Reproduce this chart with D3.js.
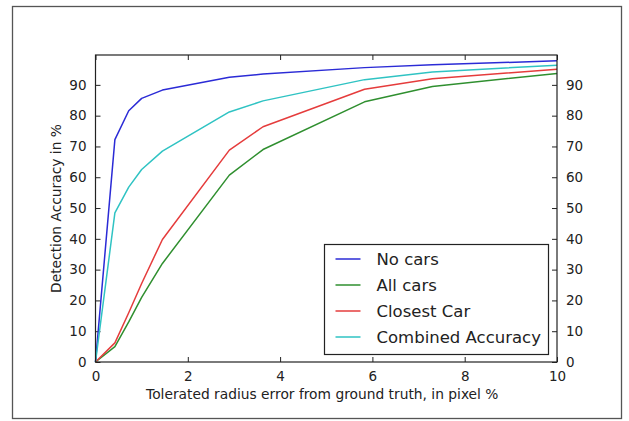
<!DOCTYPE html>
<html>
<head>
<meta charset="utf-8">
<script src="https://cdn.jsdelivr.net/npm/d3@7"></script>
<style>
  body { margin: 0; background: #fff; }
  svg text { font-family: "DejaVu Sans", sans-serif; fill: #222; }
</style>
</head>
<body>
<div id="chart"></div>
<script>
// Tolerated radius error (pixel %) and detection accuracy (%) per method
const radius = [0, 0.42, 0.72, 1.0, 1.45, 2.9, 3.63, 5.83, 7.3, 10];
const noCars = [0, 72.2, 81.6, 85.6, 88.3, 92.5, 93.5, 95.6, 96.5, 97.8];
const allCars = [0, 5, 13, 21, 32, 60.7, 69, 84.5, 89.5, 93.7];
const closestCar = [0, 6.2, 16, 25.5, 39.8, 68.8, 76.4, 88.6, 92, 95.1];
const combined = [0, 48.4, 56.8, 62.5, 68.5, 81.2, 84.8, 91.7, 94.2, 96.4];

const seriesNames = ['No cars', 'All cars', 'Closest Car', 'Combined Accuracy'];
const seriesValues = [noCars, allCars, closestCar, combined];
const seriesColors = ['#2b2bd6', '#2f8f2f', '#e53c3c', '#2fc3c3'];

const xTicks = [0, 2, 4, 6, 8, 10];
const yTicks = [0, 10, 20, 30, 40, 50, 60, 70, 80, 90];

const width = 629, height = 421;
const margin = { top: 55, right: 72, bottom: 59, left: 95.5 };
const plotW = width - margin.left - margin.right;
const plotH = height - margin.top - margin.bottom;

const svg = d3.select('#chart').append('svg')
  .attr('width', width)
  .attr('height', height);

// outer figure frame
svg.append('rect')
  .attr('x', 12.5).attr('y', 6.5)
  .attr('width', 609).attr('height', 412)
  .attr('fill', 'none')
  .attr('stroke', '#555')
  .attr('stroke-width', 1.3);

const g = svg.append('g')
  .attr('transform', `translate(${margin.left},${margin.top})`);

const x = d3.scaleLinear().domain([0, 10]).range([0, plotW]);
const y = d3.scaleLinear().domain([0, 99.7]).range([plotH, 0]);

// axes, ticks pointing inward
const tickLen = 5;
const styleAxis = sel => {
  sel.select('.domain').remove();
  sel.selectAll('.tick line').attr('stroke', '#222').attr('stroke-width', 1);
  sel.selectAll('.tick text').style('font-size', '13.5px').attr('fill', '#222');
};

g.append('g')
  .attr('transform', `translate(0,${plotH})`)
  .call(d3.axisBottom(x).tickValues(xTicks).tickSize(-tickLen).tickPadding(9).tickFormat(d3.format('d')))
  .call(styleAxis);

g.append('g')
  .call(d3.axisTop(x).tickValues(xTicks).tickSize(-tickLen).tickFormat(''))
  .call(styleAxis);

g.append('g')
  .call(d3.axisLeft(y).tickValues(yTicks).tickSize(-tickLen).tickPadding(9).tickFormat(d3.format('d')))
  .call(styleAxis);

g.append('g')
  .attr('transform', `translate(${plotW},0)`)
  .call(d3.axisRight(y).tickValues(yTicks).tickSize(-tickLen).tickPadding(9).tickFormat(d3.format('d')))
  .call(styleAxis);

// lines
const line = d3.line()
  .x((d, i) => x(radius[i]))
  .y(d => y(d));

g.selectAll('.series')
  .data(seriesValues)
  .join('path')
  .attr('class', 'series')
  .attr('d', d => line(d))
  .attr('fill', 'none')
  .attr('stroke', (d, i) => seriesColors[i])
  .attr('stroke-width', 1.5)
  .attr('stroke-linejoin', 'round');

// plot frame
g.append('rect')
  .attr('width', plotW).attr('height', plotH)
  .attr('fill', 'none')
  .attr('stroke', '#222')
  .attr('stroke-width', 1.2);

// axis labels
svg.append('text')
  .attr('x', margin.left + plotW / 2 - 4)
  .attr('y', 399)
  .attr('text-anchor', 'middle')
  .style('font-size', '13.8px')
  .text('Tolerated radius error from ground truth, in pixel %');

svg.append('text')
  .attr('transform', `translate(61,${margin.top + plotH / 2}) rotate(-90)`)
  .attr('text-anchor', 'middle')
  .style('font-size', '13.8px')
  .text('Detection Accuracy in %');

// legend
const legend = svg.append('g').attr('transform', 'translate(324.5,244.5)');
legend.append('rect')
  .attr('width', 224).attr('height', 110)
  .attr('fill', '#fff')
  .attr('stroke', '#222')
  .attr('stroke-width', 1.2);

const items = legend.selectAll('.legend-item')
  .data(seriesNames)
  .join('g')
  .attr('class', 'legend-item')
  .attr('transform', (d, i) => `translate(0,${14.5 + i * 26})`);

items.append('line')
  .attr('x1', 11).attr('x2', 36)
  .attr('stroke', (d, i) => seriesColors[i])
  .attr('stroke-width', 1.5);

items.append('text')
  .attr('x', 52)
  .attr('dy', '0.35em')
  .style('font-size', '16.5px')
  .text(d => d);
</script>
</body>
</html>
